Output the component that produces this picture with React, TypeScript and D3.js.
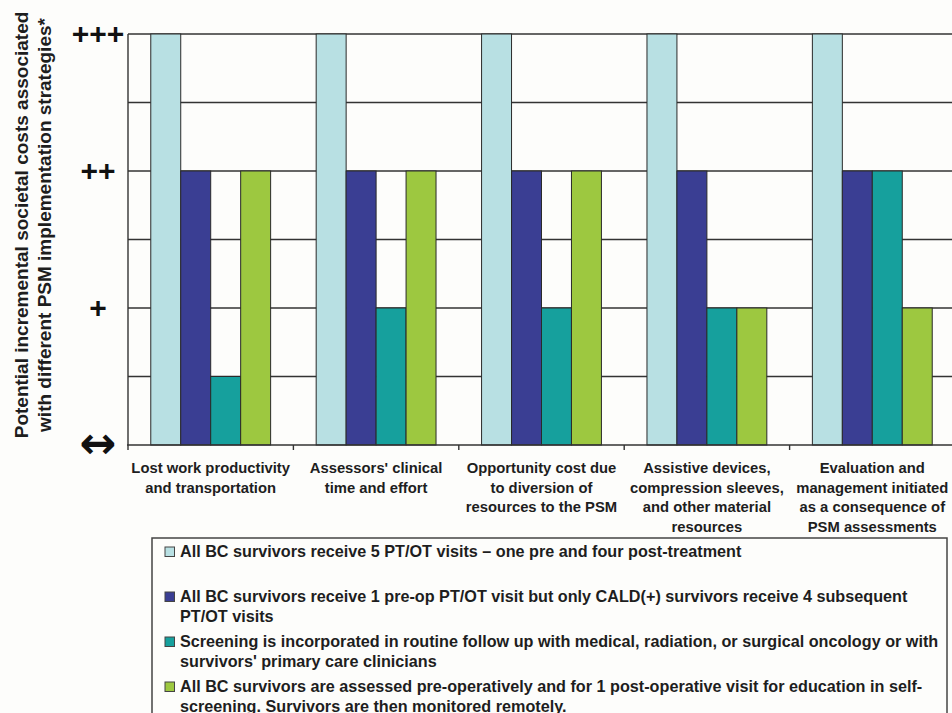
import React from "react";
import * as d3 from "d3";

const categories: string[][] = [
  ["Lost work productivity", "and transportation"],
  ["Assessors' clinical", "time and effort"],
  ["Opportunity cost due", "to diversion of", "resources to the PSM"],
  ["Assistive devices,", "compression sleeves,", "and other material", "resources"],
  ["Evaluation and", "management initiated", "as a consequence of", "PSM assessments"],
];

const seriesFive = [6, 6, 6, 6, 6];
const seriesOnePre = [4, 4, 4, 4, 4];
const seriesScreening = [1, 2, 2, 2, 4];
const seriesSelf = [4, 4, 4, 2, 2];

const seriesLabels: string[][] = [
  ["All BC survivors receive 5 PT/OT visits \u2013 one pre and four post-treatment", ""],
  ["All BC survivors receive 1 pre-op PT/OT visit but only CALD(+) survivors receive 4 subsequent", "PT/OT visits"],
  ["Screening is incorporated in routine follow up with medical, radiation, or surgical oncology or with", "survivors' primary care clinicians"],
  ["All BC survivors are assessed pre-operatively and for 1 post-operative visit for education in self-", "screening.  Survivors are then monitored remotely."],
];

const seriesColors = ["#b8e0e3", "#3a3e93", "#16a09d", "#9dc840"];

const yTickValues = [0, 2, 4, 6];
const yTickLabels = ["\u2194", "+", "++", "+++"];
const yGridValues = [1, 2, 3, 4, 5, 6];

const yTitle = [
  "Potential incremental societal costs associated",
  "with different PSM implementation strategies*",
];

const FONT = "'Liberation Sans', Arial, Helvetica, sans-serif";

export default function App() {
  const W = 952;
  const H = 713;
  const plot = { left: 128, right: 955, top: 34, bottom: 445 };

  const series = [seriesFive, seriesOnePre, seriesScreening, seriesSelf];
  const catIdx = categories.map((_, i) => i);

  const x = d3.scaleBand<number>().domain(catIdx).range([plot.left, plot.right]).padding(0);
  const xs = d3
    .scaleBand<number>()
    .domain(series.map((_, i) => i))
    .range([0, x.bandwidth()])
    .paddingInner(0)
    .paddingOuter(0.76);
  const y = d3.scaleLinear().domain([0, 6]).range([plot.bottom, plot.top]);

  const lineH = 19.5;
  const legendX = 152;
  const legendY = 538;
  const legendFirstBaseline = 557;
  let cursor = legendFirstBaseline;
  const legendLayout = seriesLabels.map((lines) => {
    const start = cursor;
    cursor += lines.length * lineH + 6;
    return start;
  });

  return (
    <svg
      width={W}
      height={H}
      style={{ position: "absolute", left: 0, top: 0, background: "#fdfdfb" }}
      fontFamily={FONT}
    >
      <rect x={0} y={0} width={W} height={H} fill="#fdfdfb" />

      {/* gridlines */}
      {yGridValues.map((v) => (
        <line key={"g" + v} x1={plot.left} x2={plot.right} y1={y(v)} y2={y(v)} stroke="#333" strokeWidth={1.4} />
      ))}

      {/* bars */}
      {catIdx.map((ci) =>
        series.map((s, si) => (
          <rect
            key={`b${ci}-${si}`}
            x={(x(ci) as number) + (xs(si) as number)}
            y={y(s[ci])}
            width={xs.bandwidth()}
            height={y(0) - y(s[ci])}
            fill={seriesColors[si]}
            stroke="#2a2a2a"
            strokeWidth={1}
          />
        ))
      )}

      {/* axes */}
      <line x1={plot.left} x2={plot.left} y1={plot.top} y2={plot.bottom} stroke="#333" strokeWidth={1.4} />
      <line x1={plot.left - 1} x2={plot.right} y1={plot.bottom} y2={plot.bottom} stroke="#333" strokeWidth={1.4} />
      {catIdx.map((ci) => (
        <line
          key={"t" + ci}
          x1={x(ci) as number}
          x2={x(ci) as number}
          y1={plot.bottom}
          y2={plot.bottom + 5}
          stroke="#333"
          strokeWidth={1.4}
        />
      ))}

      {/* y tick labels */}
      {yTickValues.map((v, i) =>
        i === 0 ? (
          <text
            key={"yl" + v}
            x={98}
            y={y(v) + 13}
            textAnchor="middle"
            fontSize={44}
            fontWeight="bold"
            fontFamily="'DejaVu Sans', sans-serif"
            fill="#111"
          >
            {yTickLabels[i]}
          </text>
        ) : (
          <text
            key={"yl" + v}
            x={98}
            y={y(v) + 10}
            textAnchor="middle"
            fontSize={30}
            fontWeight="bold"
            fill="#111"
          >
            {yTickLabels[i]}
          </text>
        )
      )}

      {/* y title */}
      <g transform={`translate(28, 225) rotate(-90)`}>
        {yTitle.map((t, i) => (
          <text key={"yt" + i} x={0} y={i * 23} textAnchor="middle" fontSize={19} fontWeight="bold" fill="#1e1e1e">
            {t}
          </text>
        ))}
      </g>

      {/* category labels */}
      {categories.map((lines, ci) => (
        <text key={"c" + ci} textAnchor="middle" fontSize={14.8} fontWeight="bold" fill="#1e1e1e">
          {lines.map((l, li) => (
            <tspan key={li} x={(x(ci) as number) + x.bandwidth() / 2} y={473 + li * lineH}>
              {l}
            </tspan>
          ))}
        </text>
      ))}

      {/* legend */}
      <rect x={legendX} y={legendY} width={795} height={220} fill="none" stroke="#444" strokeWidth={1.5} />
      {seriesLabels.map((lines, si) => (
        <g key={"lg" + si}>
          <rect
            x={165}
            y={legendLayout[si] - 10}
            width={9.5}
            height={9.5}
            fill={seriesColors[si]}
            stroke="#444"
            strokeWidth={1}
          />
          <text fontSize={16.2} fontWeight="bold" fill="#1e1e1e">
            {lines.map((l, li) => (
              <tspan key={li} x={180} y={legendLayout[si] + li * lineH}>
                {l}
              </tspan>
            ))}
          </text>
        </g>
      ))}
    </svg>
  );
}
